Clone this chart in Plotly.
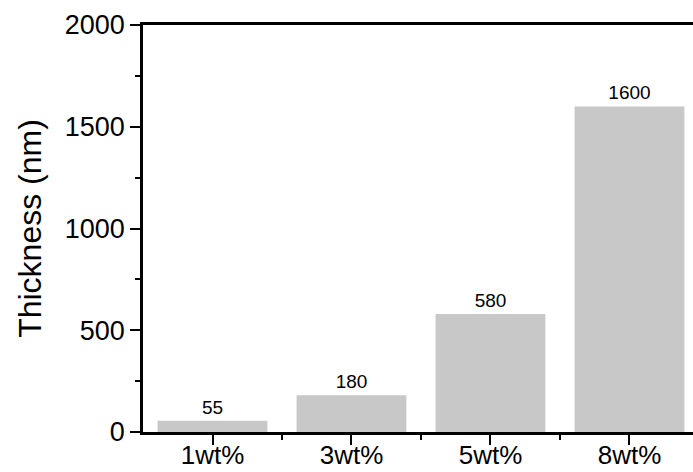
import plotly.graph_objects as go

categories = ["1wt%", "3wt%", "5wt%", "8wt%"]
thickness = [55, 180, 580, 1600]
labels = ["55", "180", "580", "1600"]
y_ticks = [0, 500, 1000, 1500, 2000]

xpos = list(range(len(categories)))

fig = go.Figure(go.Bar(
    x=xpos, y=thickness, width=0.79,
    marker=dict(color="#c8c8c8", line=dict(width=0)),
    text=labels, textposition="outside", cliponaxis=False,
    textfont=dict(size=19, color="black", family="Liberation Sans"),
))

fig.update_layout(
    width=693, height=472,
    margin=dict(l=143, r=0, t=25, b=40),
    plot_bgcolor="white", paper_bgcolor="white",
    font=dict(family="Liberation Sans", color="black"),
    showlegend=False,
)
fig.update_xaxes(
    range=[-0.5, 3.457], tickvals=xpos, ticktext=categories,
    ticks="outside", ticklen=10, tickwidth=2, tickcolor="black",
    showline=True, linewidth=2.5, linecolor="black", mirror=True,
    showgrid=False, zeroline=False, automargin=False,
    tickfont=dict(size=26), ticklabelstandoff=-12,
    minor=dict(tickvals=[0.5, 1.5, 2.5], ticks="outside", ticklen=5, tickwidth=2, tickcolor="black"),
)
fig.update_yaxes(
    range=[0, 2000], tickvals=y_ticks,
    ticks="outside", ticklen=10, tickwidth=2, tickcolor="black",
    showline=True, linewidth=2.5, linecolor="black",
    showgrid=False, zeroline=False, automargin=False,
    tickfont=dict(size=27),
    title=dict(text="Thickness (nm)", font=dict(size=32), standoff=14),
    minor=dict(tickvals=[250, 750, 1250, 1750], ticks="outside", ticklen=5, tickwidth=2, tickcolor="black"),
)

fig.write_html("out.html")
